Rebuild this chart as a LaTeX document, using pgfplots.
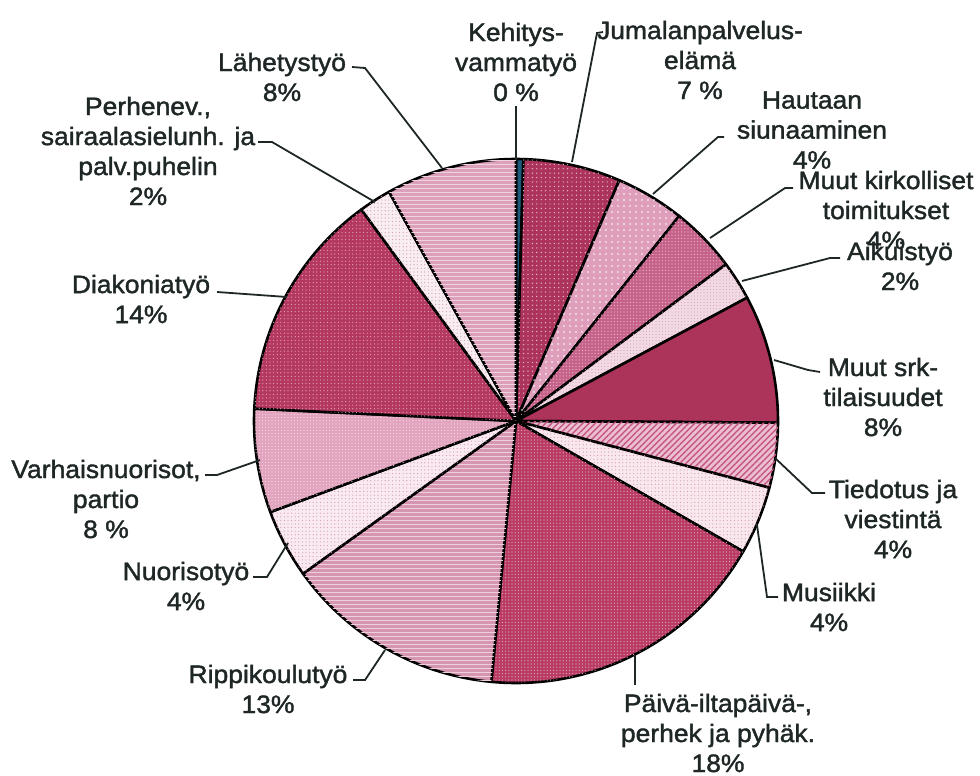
\documentclass[border=0pt]{standalone}
\usepackage{pgfplots}
\pgfplotsset{compat=1.18}
\usepackage{pgfplotstable}
\usetikzlibrary{patterns.meta}
\usepackage{fontspec}
\setmainfont{Liberation Sans}
\newfontfamily\labfont[FakeBold=1.5,FakeStretch=1.05]{Liberation Sans}

\definecolor{cKeh}{RGB}{30,90,125}
\definecolor{cJum}{RGB}{172,52,92}
\definecolor{cHau}{RGB}{222,158,188}
\definecolor{cMkt}{RGB}{198,98,138}
\definecolor{cAik}{RGB}{242,218,228}
\definecolor{cMsrk}{RGB}{172,52,90}
\definecolor{cTie}{RGB}{236,190,210}
\definecolor{cTieL}{RGB}{196,88,128}
\definecolor{cMus}{RGB}{248,232,238}
\definecolor{cPai}{RGB}{186,60,100}
\definecolor{cRip}{RGB}{214,150,178}
\definecolor{cNuo}{RGB}{248,234,240}
\definecolor{cVar}{RGB}{226,164,190}
\definecolor{cDia}{RGB}{180,56,96}
\definecolor{cPer}{RGB}{248,238,242}
\definecolor{cLah}{RGB}{220,160,186}
\definecolor{txt}{RGB}{30,38,38}

\tikzset{
  sKeh/.style={fill=cKeh},
  sJum/.style={fill=cJum, postaction={pattern={Dots[distance=2.2pt,radius=0.35pt]}, pattern color=white!70!cJum}},
  sHau/.style={fill=cHau, postaction={pattern={Dots[distance=3pt,radius=0.4pt]}, pattern color=white}},
  sMkt/.style={fill=cMkt, postaction={pattern={Dots[distance=1.6pt,radius=0.3pt]}, pattern color=white!60!cMkt}},
  sAik/.style={fill=cAik, postaction={pattern={Dots[distance=1.6pt,radius=0.3pt]}, pattern color=cHau}},
  sMsrk/.style={fill=cMsrk},
  sTie/.style={fill=cTie, postaction={pattern={Lines[angle=45,distance=2.2pt,line width=0.7pt]}, pattern color=cTieL}},
  sMus/.style={fill=cMus, postaction={pattern={Dots[distance=1.8pt,radius=0.3pt]}, pattern color=cRip}},
  sPai/.style={fill=cPai, postaction={pattern={Dots[distance=1.6pt,radius=0.3pt]}, pattern color=white!60!cPai}},
  sRip/.style={fill=cRip, postaction={pattern={Lines[angle=0,distance=2pt,line width=0.4pt]}, pattern color=white!55!cRip}},
  sNuo/.style={fill=cNuo, postaction={pattern={Dots[distance=1.8pt,radius=0.3pt]}, pattern color=cRip}},
  sVar/.style={fill=cVar, postaction={pattern={Dots[distance=1.6pt,radius=0.3pt]}, pattern color=white!60!cVar}},
  sDia/.style={fill=cDia, postaction={pattern={Dots[distance=1.8pt,radius=0.3pt]}, pattern color=white!60!cDia}},
  sPer/.style={fill=cPer, postaction={pattern={Dots[distance=1.8pt,radius=0.3pt]}, pattern color=cRip}},
  sLah/.style={fill=cLah, postaction={pattern={Lines[angle=0,distance=2pt,line width=0.4pt]}, pattern color=white!55!cLah}},
}

% share of each slice (per cent), clockwise from the top
\pgfplotstableread{
name value sty
Kehitysvammatyo 0.45 sKeh
Jumalanpalveluselama 6.0 sJum
Hautaansiunaaminen 4.25 sHau
Muutkirkollisettoimitukset 4.1 sMkt
Aikuistyo 2.4 sAik
Muutsrktilaisuudet 7.9 sMsrk
Tiedotusjaviestinta 4.0 sTie
Musiikki 4.2 sMus
Paivailtapaiva 18.2 sPai
Rippikoulutyo 13.6 sRip
Nuorisotyo 4.25 sNuo
Varhaisnuorisot 6.4 sVar
Diakoniatyo 14.2 sDia
Perhenev 2.0 sPer
Lahetystyo 8.05 sLah
}\piedata

\newcommand\lab{\labfont\fontsize{12.6}{15}\selectfont}

\begin{document}
\begin{tikzpicture}
\begin{axis}[
  width=490pt, height=388pt, scale only axis,
  xmin=0, xmax=980, ymin=0, ymax=776, y dir=reverse,
  hide axis, clip=false,
]
\pgfplotstablegetrowsof{\piedata}
\pgfmathtruncatemacro\N{\pgfplotsretval-1}
\def\cum{0}
\pgfplotsforeachungrouped \i in {0,...,\N}{%
  \pgfplotstablegetelem{\i}{value}\of\piedata \let\v\pgfplotsretval
  \pgfplotstablegetelem{\i}{sty}\of\piedata \let\s\pgfplotsretval
  \pgfmathsetmacro\a{90-3.6*\cum}%
  \pgfmathsetmacro\b{90-3.6*(\cum+\v)}%
  \edef\temp{\noexpand\filldraw[\s, draw=black, line width=1.3pt, line join=round] (axis cs:516,421) -- ++(\a:131pt) arc[start angle=\a, end angle=\b, radius=131pt] -- cycle;}%
  \temp
  \pgfmathsetmacro\cum{\cum+\v}%
}

\begin{scope}[line width=0.9pt, draw=txt]
\draw (axis cs:516,106) -- (axis cs:516,160);
\draw (axis cs:603,32) -- (axis cs:597,33) -- (axis cs:572,162);
\draw (axis cs:724,137) -- (axis cs:718,137) -- (axis cs:653,194);
\draw (axis cs:793,188) -- (axis cs:785,188) -- (axis cs:710,238);
\draw (axis cs:840,258) -- (axis cs:830,258) -- (axis cs:742,281);
\draw (axis cs:820,372) -- (axis cs:808,370) -- (axis cs:774,360);
\draw (axis cs:825,493) -- (axis cs:812,493) -- (axis cs:775,458);
\draw (axis cs:757,525) -- (axis cs:767,597) -- (axis cs:778,597);
\draw (axis cs:635,655) -- (axis cs:635,685);
\draw (axis cs:353,680) -- (axis cs:365,680) -- (axis cs:385,650);
\draw (axis cs:253,577) -- (axis cs:267,577) -- (axis cs:288,543);
\draw (axis cs:205,475) -- (axis cs:217,475) -- (axis cs:260,460);
\draw (axis cs:217,292) -- (axis cs:287,297);
\draw (axis cs:258,142) -- (axis cs:272,142) -- (axis cs:375,202);
\draw (axis cs:352,67) -- (axis cs:365,68) -- (axis cs:442,168);
\end{scope}

\begin{scope}[every node/.style={align=center, font=\lab, text=txt, inner sep=0pt}]
\node at (axis cs:516,62) {Kehitys-\\vammatyö\\0 \%};
\node at (axis cs:700,60) {Jumalanpalvelus-\\elämä\\7 \%};
\node at (axis cs:812,130) {Hautaan\\siunaaminen\\4\%};
\node at (axis cs:886,210) {Muut kirkolliset\\toimitukset\\4\%};
\node at (axis cs:900,266) {Aikuistyö\\2\%};
\node at (axis cs:883,397) {Muut srk-\\tilaisuudet\\8\%};
\node at (axis cs:893,519) {Tiedotus ja\\viestintä\\4\%};
\node at (axis cs:829,607) {Musiikki\\4\%};
\node at (axis cs:718,733) {Päivä-iltapäivä-,\\perhek ja pyhäk.\\18\%};
\node at (axis cs:268,689) {Rippikoulutyö\\13\%};
\node at (axis cs:186,586) {Nuorisotyö\\4\%};
\node at (axis cs:106,499) {Varhaisnuorisot,\\partio\\8 \%};
\node at (axis cs:141,299) {Diakoniatyö\\14\%};
\node at (axis cs:148,151) {Perhenev.,\\sairaalasielunh. ja\\palv.puhelin\\2\%};
\node at (axis cs:282,77) {Lähetystyö\\8\%};
\end{scope}
\end{axis}
\pgfresetboundingbox
\useasboundingbox (current axis.south west) rectangle (current axis.north east);
\end{tikzpicture}
\end{document}
